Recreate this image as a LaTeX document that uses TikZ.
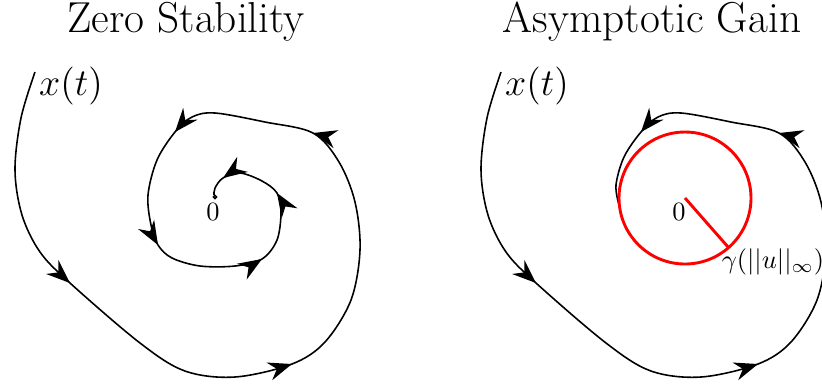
\documentclass[tikz,border=0pt]{standalone}
\usetikzlibrary{arrows.meta,calc}
\begin{document}
\begin{tikzpicture}[x=0.3788pt,y=-0.3788pt,
  curve/.style={line width=0.6pt,black},
  tipstyle/.style={line width=0.6pt,-{Stealth[length=9pt,width=7pt,inset=3pt]}},
  redline/.style={line width=1.1pt,red},
  title/.style={font=\fontsize{16.4}{19}\selectfont,inner sep=0pt},
  xlabel/.style={font=\fontsize{15}{18}\selectfont,inner sep=0pt},
  zlabel/.style={inner sep=0pt}]
\useasboundingbox (0,0) rectangle (822,384);
\newcommand\arrowat[2]{\draw[tipstyle] ($(#1)+({#2+180}:3)$) -- (#1);}
\def\outerpts{(35,72) (21,118) (15,170) (22,215) (40,252) (70,283) (140,343) (185,371) (235,377) (292,364) (325,342) (351,300) (360,250) (355,202) (339,162) (313,133) (265,122) (215,113) (192,117) (175,132)}
% ---------- left panel ----------
\node[title] (t1) at (186,22) {Zero Stability};
\node[xlabel] (x1) at (71,86) {$x(t)$};
\draw[curve] plot[smooth,tension=0.55] coordinates {\outerpts (157,160) (148,195) (151,225) (158,245) (172,258) (200,266) (235,266) (262,259) (277,240) (281,212) (277,193) (262,181) (240,173) (223,178) (215,188) (214,195)};
\draw[line width=0.5pt] (215,197) circle (1.6);
\coordinate (o1) at (217,198);
\node[zlabel] (z1) at (213,212) {$0$};
\coordinate (a1) at (70,283);  \arrowat{a1}{42}
\coordinate (a2) at (292,364); \arrowat{a2}{-18}
\coordinate (a3) at (313,133); \arrowat{a3}{195}
\coordinate (a4) at (175,132); \arrowat{a4}{130}
\coordinate (a5) at (158,245); \arrowat{a5}{60}
\coordinate (a6) at (262,259); \arrowat{a6}{-32}
\coordinate (a7) at (277,193); \arrowat{a7}{-122}
\coordinate (a8) at (223,178); \arrowat{a8}{145}
% ---------- right panel ----------
\begin{scope}[shift={(466,0)}]
\node[title] (t2) at (186,22) {Asymptotic Gain};
\node[xlabel] (x2) at (71,86) {$x(t)$};
\draw[curve] plot[smooth,tension=0.55] coordinates {\outerpts (158,157) (150,185) (153,205)};
\coordinate (o2) at (219,198);
\draw[redline] (o2) circle (66);
\coordinate (g2) at ($(o2)+(48.7:65)$);
\draw[redline] (o2) -- (g2);
\node[zlabel] (z2) at (213,212) {$0$};
\node[inner sep=0pt] (gl) at (307,262) {$\gamma(||u||_\infty)$};
\coordinate (b1) at (70,283);  \arrowat{b1}{42}
\coordinate (b2) at (292,364); \arrowat{b2}{-18}
\coordinate (b3) at (313,133); \arrowat{b3}{195}
\coordinate (b4) at (175,132); \arrowat{b4}{130}
\end{scope}
\end{tikzpicture}
\end{document}
